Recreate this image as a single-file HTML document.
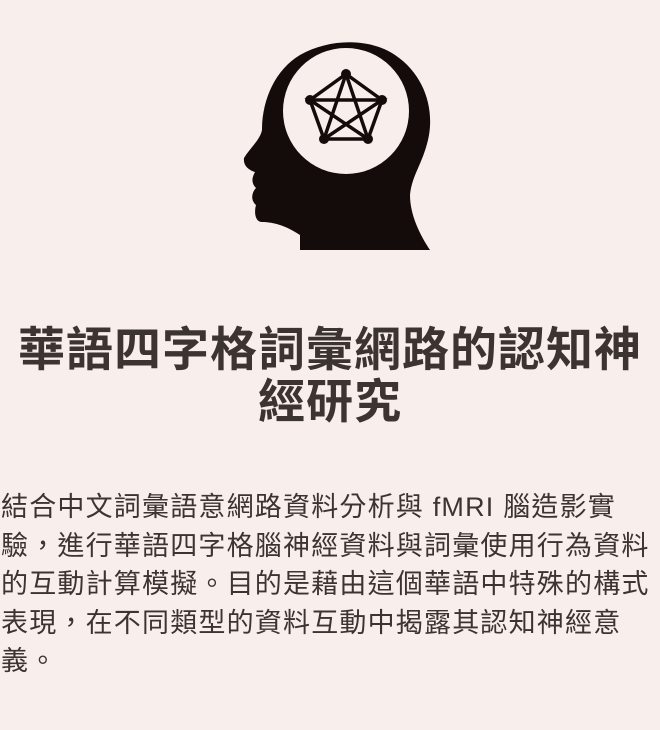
<!DOCTYPE html>
<html><head><meta charset="utf-8"><style>
body{margin:0;width:660px;height:730px;background:#f8efec;overflow:hidden;font-family:"Liberation Sans","Noto Sans CJK TC",sans-serif;color:#3b3431;position:relative}
#title{position:absolute;left:0;top:324px;width:660px;text-align:center;font-weight:bold;font-size:47px;line-height:52px;letter-spacing:1px}
#body{position:absolute;left:1px;top:488px;width:660px;font-size:27px;line-height:38.5px;letter-spacing:1.2px;white-space:nowrap}
</style></head><body>
<svg width="660" height="300" style="position:absolute;left:0;top:0">
<path d="M300,250 L300,235 C285,225 272,222 262,222 C255,222 254,212 256,205 C250,200 252,192 256,188 C250,182 253,176 255,172 C248,170 243,165 244,158 C250,148 260,140 262,130 C262,100 275,70 300,55 C330,38 370,38 395,55 C425,75 435,110 428,140 C422,165 412,175 410,195 C410,215 420,235 430,250 Z" fill="#140c0a"/>
<circle cx="346" cy="111" r="63" fill="#f8efec"/>
<g stroke="#140c0a" stroke-width="3.5" fill="none">
<polygon points="346,74 382,100 368,139 324,139 310,100"/>
<polygon points="346,74 368,139 310,100 382,100 324,139"/>
</g>
<g fill="#140c0a"><circle cx="346" cy="74" r="5"/><circle cx="382" cy="100" r="5"/><circle cx="368" cy="139" r="5"/><circle cx="324" cy="139" r="5"/><circle cx="310" cy="100" r="5"/></g>
</svg>
<div id="title">華語四字格詞彙網路的認知神<br>經研究</div>
<div id="body">結合中文詞彙語意網路資料分析與 fMRI 腦造影實<br>驗，進行華語四字格腦神經資料與詞彙使用行為資料<br>的互動計算模擬。目的是藉由這個華語中特殊的構式<br>表現，在不同類型的資料互動中揭露其認知神經意<br>義。</div>
</body></html>
